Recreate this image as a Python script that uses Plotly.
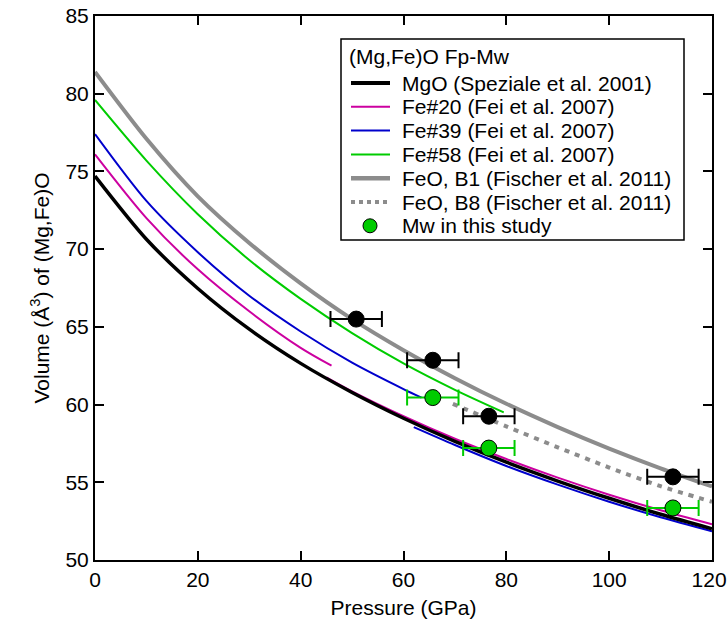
import plotly.graph_objects as go

# pressure grid (GPa) shared by the full-range curves
P_FULL = [0, 10, 20, 30, 40, 50, 60, 70, 80, 90, 100, 110, 120]

# unit-cell volumes (A^3)
mgo_v = [74.70, 70.64, 67.47, 64.85, 62.65, 60.78, 59.12, 57.63, 56.29, 55.08, 53.97, 52.94, 52.01]
feo_b1_v = [81.4, 77.1, 73.4, 70.4, 67.8, 65.5, 63.5, 61.7, 60.05, 58.55, 57.17, 55.9, 54.73]

fe20_hs_p = [0, 10, 20, 30, 40, 46]
fe20_hs_v = [76.1, 72.0, 68.7, 66.0, 63.65, 62.5]
fe20_ls_p = [45, 50, 60, 70, 80, 90, 100, 110, 120]
fe20_ls_v = [61.75, 60.85, 59.25, 57.8, 56.5, 55.3, 54.2, 53.2, 52.3]

fe39_hs_p = [0, 10, 20, 30, 40, 50, 60, 63.5]
fe39_hs_v = [77.4, 73.1, 69.8, 67.0, 64.7, 62.7, 61.0, 60.45]
fe39_ls_p = [62, 70, 80, 90, 100, 110, 120]
fe39_ls_v = [58.55, 57.4, 56.05, 54.85, 53.75, 52.75, 51.85]

fe58_p = [0, 10, 20, 30, 40, 50, 60, 70, 79.5]
fe58_v = [79.6, 75.7, 72.25, 69.3, 66.8, 64.6, 62.65, 60.95, 59.5]

feo_b8_p = [69.6, 80, 90, 100, 110, 120]
feo_b8_v = [60.05, 58.6, 57.25, 55.95, 54.75, 53.75]

# measured points
black_p = [50.8, 65.7, 76.6, 112.4]
black_v = [65.5, 62.85, 59.25, 55.35]
mw_p = [65.7, 76.6, 112.4]
mw_v = [60.45, 57.2, 53.35]
P_ERR = 5

# tick labels; the last one is padded so it sits against the window edge, as in the original
x_ticks = [0, 20, 40, 60, 80, 100, 120]
x_ticktext = ["0", "20", "40", "60", "80", "100", "120&nbsp;"]

BLACK = "#000000"
MAGENTA = "#cc00a0"
BLUE = "#0000cc"
GREEN = "#00cc00"
GREY = "#8c8c8c"

W, H = 727, 630
ML, MR, MT, MB = 95, 15, 16, 70
FONT = "Liberation Sans, Arial, sans-serif"

fig = go.Figure()


def curve(p, v, color, width, dash="solid"):
    fig.add_trace(go.Scatter(
        x=p, y=v, mode="lines", showlegend=False,
        line=dict(color=color, width=width, dash=dash, shape="spline", smoothing=0.8),
        hoverinfo="skip",
    ))


curve(P_FULL, feo_b1_v, GREY, 4)
curve(feo_b8_p, feo_b8_v, GREY, 4, dash="5px,6px")
curve(fe58_p, fe58_v, GREEN, 2)
curve(fe39_hs_p, fe39_hs_v, BLUE, 2)
curve(fe39_ls_p, fe39_ls_v, BLUE, 2)
curve(fe20_hs_p, fe20_hs_v, MAGENTA, 2)
curve(fe20_ls_p, fe20_ls_v, MAGENTA, 2)
curve(P_FULL, mgo_v, BLACK, 3.5)

fig.add_trace(go.Scatter(
    x=black_p, y=black_v, mode="markers", showlegend=False,
    marker=dict(color=BLACK, size=16, line=dict(color=BLACK, width=1)),
    error_x=dict(type="constant", value=P_ERR, color=BLACK, thickness=2, width=8),
))
fig.add_trace(go.Scatter(
    x=mw_p, y=mw_v, mode="markers", showlegend=False,
    marker=dict(color=GREEN, size=16, line=dict(color=BLACK, width=1)),
    error_x=dict(type="constant", value=P_ERR, color=GREEN, thickness=2, width=8),
))

# hand-drawn legend box (pixel positions converted to paper fractions)
pw, ph = W - ML - MR, H - MT - MB


def px(x):
    return (x - ML) / pw


def py(y):
    return (H - MB - y) / ph


legend_items = [
    ("MgO (Speziale et al. 2001)", BLACK, 4, "solid"),
    ("Fe#20 (Fei et al. 2007)", MAGENTA, 2, "solid"),
    ("Fe#39 (Fei et al. 2007)", BLUE, 2, "solid"),
    ("Fe#58 (Fei et al. 2007)", GREEN, 2, "solid"),
    ("FeO, B1 (Fischer et al. 2011)", GREY, 4.5, "solid"),
    ("FeO, B8 (Fischer et al. 2011)", GREY, 4, "dot"),
    ("Mw in this study", GREEN, 0, "marker"),
]

shapes = [dict(type="rect", xref="paper", yref="paper",
               x0=px(341), x1=px(684), y0=py(39), y1=py(240),
               line=dict(color="black", width=1.5), fillcolor="white", layer="above")]
annotations = [dict(text="(Mg,Fe)O Fp-Mw", xref="paper", yref="paper",
                    x=px(347), y=py(57), xanchor="left", yanchor="middle",
                    showarrow=False, font=dict(size=21))]
row_y = 83
for name, color, width, kind in legend_items:
    if kind == "marker":
        shapes.append(dict(type="circle", xref="paper", yref="paper",
                           x0=px(363), x1=px(377), y0=py(row_y - 7), y1=py(row_y + 7),
                           fillcolor=GREEN, line=dict(color="black", width=1), layer="above"))
    else:
        shapes.append(dict(type="line", xref="paper", yref="paper",
                           x0=px(351), x1=px(390), y0=py(row_y), y1=py(row_y),
                           line=dict(color=color, width=width, dash=kind), layer="above"))
    annotations.append(dict(text=name, xref="paper", yref="paper",
                            x=px(400), y=py(row_y), xanchor="left", yanchor="middle",
                            showarrow=False, font=dict(size=21)))
    row_y += 23.8

axis_common = dict(
    showline=True, linecolor="black", linewidth=2, mirror="ticks",
    ticks="inside", ticklen=9, tickwidth=2, tickcolor="black",
    showgrid=False, zeroline=False, automargin=False,
    ticklabeloverflow="allow",
    tickfont=dict(size=21, color="black"),
)

fig.update_layout(
    width=W, height=H,
    margin=dict(l=ML, r=MR, t=MT, b=MB),
    paper_bgcolor="white", plot_bgcolor="white",
    font=dict(family=FONT, size=21, color="black"),
    showlegend=False,
    xaxis=dict(range=[0, 120], tickmode="array", tickvals=x_ticks, ticktext=x_ticktext,
               title=dict(text="Pressure (GPa)", font=dict(size=21), standoff=10),
               **axis_common),
    yaxis=dict(range=[50, 85], dtick=5,
               title=dict(text="Volume (Å<sup>3</sup>) of (Mg,Fe)O", font=dict(size=21), standoff=10),
               **axis_common),
    shapes=shapes,
    annotations=annotations,
)

# drop the page's default body margin so the figure fills the window exactly
fig.write_html("out.html", config={"displayModeBar": False},
               post_script="document.body.style.margin = '0';")
